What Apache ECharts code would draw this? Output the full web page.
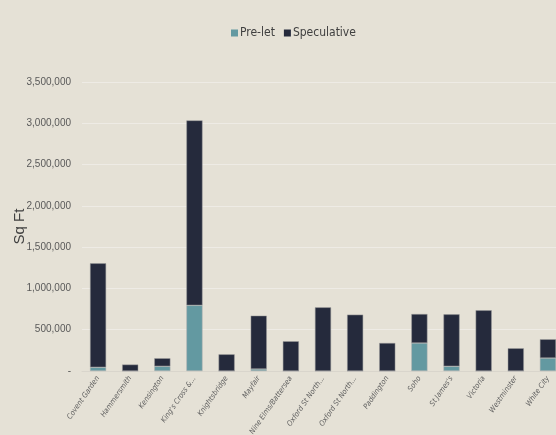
<!DOCTYPE html>
<html><head><meta charset="utf-8">
<script src="https://cdn.jsdelivr.net/npm/echarts@6/dist/echarts.min.js"></script>
<style>html,body{margin:0;padding:0;background:#e5e1d6;}#c{width:556px;height:435px;}</style>
</head><body><div id="c"></div>
<script>
var categories = ["Covent Garden","Hammersmith","Kensington","King's Cross &...","Knightsbridge","Mayfair","Nine Elms/Battersea","Oxford St North...","Oxford St North...","Paddington","Soho","St James's","Victoria","Westminster","White City"];
var preLet = [45000, 0, 57000, 795000, 0, 24000, 0, 0, 0, 0, 339000, 57000, 0, 0, 157000];
var speculative = [1259000, 78000, 97000, 2240000, 202000, 646000, 360000, 771000, 682000, 339000, 351000, 629000, 735000, 275000, 227000];
var yTicks = {min: 0, max: 3500000, interval: 500000};

var chart = echarts.init(document.getElementById('c'), null, {renderer: 'canvas'});
var condensed = '"DejaVu Sans Condensed", "Liberation Sans", Arial, sans-serif';
var sans = '"Liberation Sans", Arial, sans-serif';
chart.setOption({
  backgroundColor: '#e5e1d6',
  animation: false,
  legend: {
    top: 22, left: 226,
    itemWidth: 7, itemHeight: 7, itemGap: 9,
    icon: 'rect',
    itemStyle: {borderWidth: 0},
    textStyle: {fontFamily: condensed, fontSize: 12, color: '#404040', padding: [0,0,0,-3]},
    data: ['Pre-let', 'Speculative']
  },
  grid: {left: 82, right: -8, top: 82, bottom: 64, containLabel: false, outerBoundsMode: 'none'},
  xAxis: {
    type: 'category', data: categories,
    axisTick: {show: false},
    axisLine: {lineStyle: {color: '#d9d5cc', width: 1}},
    axisLabel: {interval: 0, rotate: 55, fontSize: 7.5, fontStyle: 'italic', color: '#606060', fontFamily: condensed, margin: 6}
  },
  yAxis: {
    type: 'value', min: yTicks.min, max: yTicks.max, interval: yTicks.interval,
    name: 'Sq Ft', nameLocation: 'middle', nameGap: 55, nameRotate: 90, nameMoveOverlap: false,
    nameTextStyle: {fontFamily: sans, fontSize: 15, color: '#404040'},
    axisLine: {show: false}, axisTick: {show: false},
    splitLine: {lineStyle: {color: '#eeebe5', width: 1}},
    axisLabel: {
      fontFamily: sans, fontSize: 10, color: '#595959', margin: 11,
      formatter: function (v) { return v === 0 ? '-' : v.toLocaleString('en-US'); }
    }
  },
  series: [
    {name: 'Pre-let', type: 'bar', stack: 'a', data: preLet, barWidth: '50%',
     itemStyle: {color: '#6399a1', borderColor: '#b0b0b0', borderWidth: 0.5}},
    {name: 'Speculative', type: 'bar', stack: 'a', data: speculative, barWidth: '50%',
     itemStyle: {color: '#252a3c', borderColor: '#9a9a9a', borderWidth: 0.5}}
  ]
});
</script></body></html>
